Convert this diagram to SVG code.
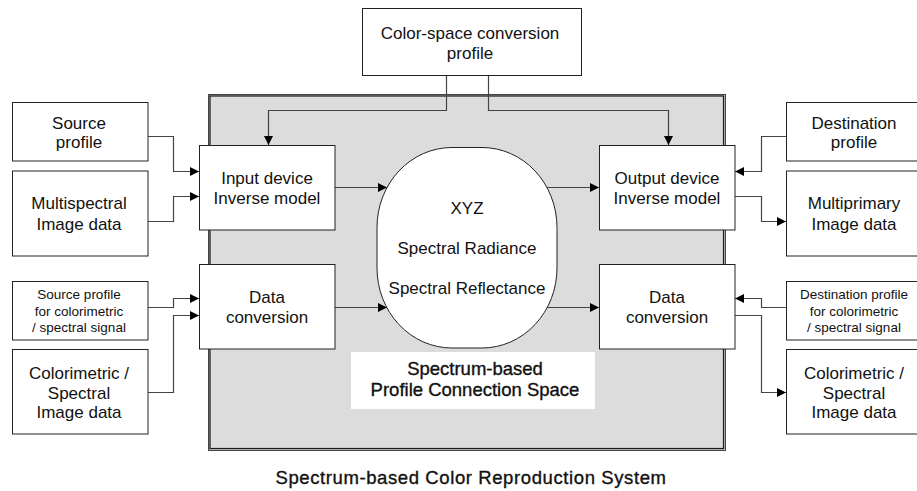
<svg xmlns="http://www.w3.org/2000/svg" width="917" height="491" viewBox="0 0 917 491">
  <defs>
    <marker id="ah" viewBox="0 0 10 10" refX="10" refY="5" markerWidth="10" markerHeight="9" orient="auto" markerUnits="userSpaceOnUse">
      <path d="M0,0 L10,5 L0,10 Z" fill="#000"/>
    </marker>
  </defs>
  <style>
    text { font-family: "Liberation Sans", Arial, sans-serif; fill: #111; text-anchor: middle; }
    .t { font-size: 17px; }
    .s { font-size: 13.5px; }
    .h { font-size: 18.5px; stroke: #111; stroke-width: 0.35px; }
    .cap { letter-spacing: 0.6px; }
    .box { fill: #fff; stroke: #222; stroke-width: 1; }
    .wire { fill: none; stroke: #444; stroke-width: 1.2; }
    .arrow { marker-end: url(#ah); }
  </style>

  <!-- system frame -->
  <g id="system">
    <rect x="208.5" y="94.5" width="517" height="356" fill="#bdbdbd" stroke="#444" stroke-width="1"/>
    <rect x="210" y="96" width="513.5" height="352.5" fill="#dcdcdc" stroke="#1a1a1a" stroke-width="1.2"/>
  </g>

  <!-- connectors -->
  <g id="connectors">
    <path class="wire arrow" d="M446.5,76 V110.5 H268.5 V145"/>
    <path class="wire arrow" d="M488.5,76 V110.5 H668.5 V145"/>
    <path class="wire arrow" d="M148,136.5 H173.5 V171.5 H199"/>
    <path class="wire arrow" d="M148,221.5 H173.5 V196.5 H199"/>
    <path class="wire arrow" d="M335,187.5 H387"/>
    <path class="wire arrow" d="M547,187.5 H599"/>
    <path class="wire arrow" d="M786,136.5 H761.5 V171.5 H735"/>
    <path class="wire arrow" d="M735,196.5 H761.5 V221.5 H786"/>
    <path class="wire arrow" d="M148,307.5 H173.5 V298.5 H199"/>
    <path class="wire arrow" d="M148,392.5 H173.5 V315.5 H199"/>
    <path class="wire arrow" d="M335,307.5 H387"/>
    <path class="wire arrow" d="M547,307.5 H599"/>
    <path class="wire arrow" d="M786,307.5 H761.5 V298.5 H735"/>
    <path class="wire arrow" d="M735,315.5 H761.5 V392.5 H786"/>
  </g>

  <g id="csc-profile">
    <rect class="box" x="362.5" y="8.5" width="219" height="67"/>
    <text class="t" x="470" y="39">Color-space conversion</text>
    <text class="t" x="470" y="59">profile</text>
  </g>

  <g id="source-profile">
    <rect class="box" x="12.5" y="102.5" width="135.5" height="58.5"/>
    <text class="t" x="79" y="129">Source</text>
    <text class="t" x="79" y="148">profile</text>
  </g>

  <g id="multispectral">
    <rect class="box" x="12.5" y="171" width="135.5" height="85"/>
    <text class="t" x="79" y="209">Multispectral</text>
    <text class="t" x="79" y="230">Image data</text>
  </g>

  <g id="input-device">
    <rect class="box" x="199.5" y="145.5" width="135.5" height="84.5"/>
    <text class="t" x="267" y="184">Input device</text>
    <text class="t" x="267" y="204">Inverse model</text>
  </g>

  <g id="data-conv-in">
    <rect class="box" x="199.5" y="264.5" width="135.5" height="84.5"/>
    <text class="t" x="267" y="303">Data</text>
    <text class="t" x="267" y="323">conversion</text>
  </g>

  <g id="source-profile-cs">
    <rect class="box" x="12.5" y="281.5" width="135.5" height="58.5"/>
    <text class="s" x="79" y="299">Source profile</text>
    <text class="s" x="79" y="315.5">for colorimetric</text>
    <text class="s" x="79" y="332">/ spectral signal</text>
  </g>

  <g id="colorimetric-in">
    <rect class="box" x="12.5" y="349.5" width="135.5" height="84.5"/>
    <text class="t" x="79" y="379">Colorimetric /</text>
    <text class="t" x="79" y="399">Spectral</text>
    <text class="t" x="79" y="418">Image data</text>
  </g>

  <g id="pcs">
    <path d="M452,147.5 H482 A75,80 0 0 1 557,227.5 V268 A75,80 0 0 1 482,348 H452 A75,80 0 0 1 377,268 V227.5 A75,80 0 0 1 452,147.5 Z" fill="#fff" stroke="#222" stroke-width="1"/>
    <text class="t" x="467" y="214">XYZ</text>
    <text class="t" x="467" y="254">Spectral Radiance</text>
    <text class="t" x="467" y="294">Spectral Reflectance</text>
  </g>

  <g id="pcs-label">
    <rect x="351" y="352" width="244" height="57" fill="#fff"/>
    <text class="h" x="475" y="375">Spectrum-based</text>
    <text class="h" x="475" y="396">Profile Connection Space</text>
  </g>

  <g id="output-device">
    <rect class="box" x="599.5" y="145.5" width="135.5" height="84.5"/>
    <text class="t" x="667" y="184">Output device</text>
    <text class="t" x="667" y="204">Inverse model</text>
  </g>

  <g id="data-conv-out">
    <rect class="box" x="599.5" y="264.5" width="135.5" height="84.5"/>
    <text class="t" x="667" y="303">Data</text>
    <text class="t" x="667" y="323">conversion</text>
  </g>

  <g id="destination-profile">
    <rect class="box" x="786.5" y="102.5" width="135.5" height="58.5"/>
    <text class="t" x="854" y="129">Destination</text>
    <text class="t" x="854" y="148">profile</text>
  </g>

  <g id="multiprimary">
    <rect class="box" x="786.5" y="171" width="135.5" height="85"/>
    <text class="t" x="854" y="209">Multiprimary</text>
    <text class="t" x="854" y="230">Image data</text>
  </g>

  <g id="destination-profile-cs">
    <rect class="box" x="786.5" y="281.5" width="135.5" height="58.5"/>
    <text class="s" x="854" y="299">Destination profile</text>
    <text class="s" x="854" y="315.5">for colorimetric</text>
    <text class="s" x="854" y="332">/ spectral signal</text>
  </g>

  <g id="colorimetric-out">
    <rect class="box" x="786.5" y="349.5" width="135.5" height="84.5"/>
    <text class="t" x="854" y="379">Colorimetric /</text>
    <text class="t" x="854" y="399">Spectral</text>
    <text class="t" x="854" y="418">Image data</text>
  </g>

  <g id="caption">
    <text class="h cap" x="471" y="484">Spectrum-based Color Reproduction System</text>
  </g>
</svg>
